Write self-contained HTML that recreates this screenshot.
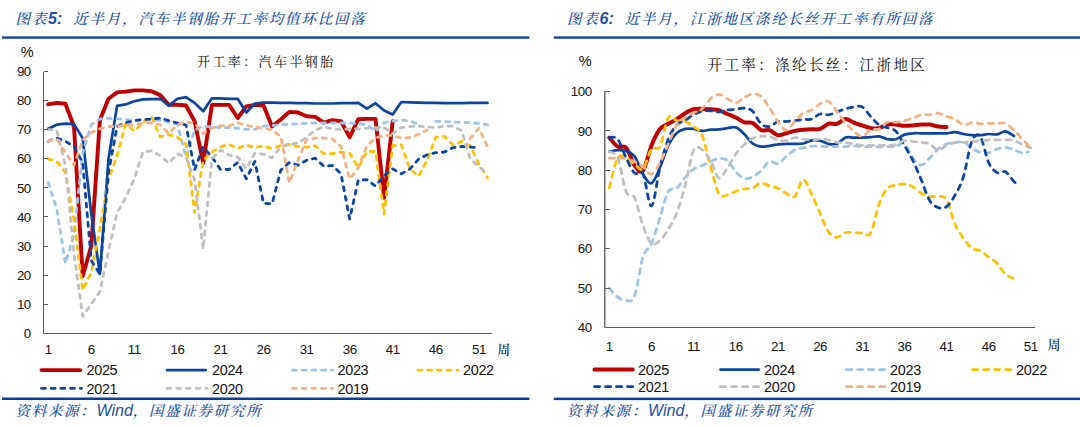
<!DOCTYPE html>
<html lang="zh-CN">
<head>
<meta charset="utf-8">
<title>图表5 / 图表6 开工率</title>
<style>
html,body{margin:0;padding:0;background:#fff;}
body{width:1080px;height:427px;position:relative;overflow:hidden;font-family:"Liberation Sans","Noto Sans CJK SC",sans-serif;}
.plot{position:absolute;left:0;top:0;}
.ax{font-family:"Liberation Sans","Noto Sans CJK SC",sans-serif;}
.kai{font-family:"Liberation Serif","Noto Serif CJK SC",serif;}
.rule{position:absolute;height:2.5px;background:#0B49A3;}
.title,.src{position:absolute;white-space:nowrap;color:#1B4FA8;font-style:italic;font-family:"Liberation Serif","Noto Serif CJK SC",serif;font-weight:500;}
.title{font-size:14.5px;letter-spacing:1.8px;line-height:20px;top:8.5px;}
.title b{font-family:"Liberation Sans",sans-serif;font-weight:bold;font-size:16px;letter-spacing:0;}
.src{font-size:14.5px;letter-spacing:1.7px;line-height:20px;top:400.5px;}
.src i{font-family:"Liberation Sans",sans-serif;font-size:16px;letter-spacing:0;}
.ctitle{position:absolute;white-space:nowrap;color:#111;font-family:"Liberation Serif","Noto Serif CJK SC",serif;font-weight:400;line-height:20px;}
</style>
</head>
<body>
<div class="title" style="left:15.5px">图表<b>5:</b>&nbsp; 近半月，汽车半钢胎开工率均值环比回落</div>
<div class="title" style="left:567px">图表<b>6:</b>&nbsp; 近半月，江浙地区涤纶长丝开工率有所回落</div>
<div class="ctitle" style="left:197px;top:52px;font-size:13px;letter-spacing:2.4px">开工率：汽车半钢胎</div>
<div class="ctitle" style="left:707.5px;top:55px;font-size:14.5px;letter-spacing:2.4px">开工率：涤纶长丝：江浙地区</div>
<svg class="plot" width="1080" height="427" viewBox="0 0 1080 427">
<g fill="none" stroke-linecap="round" stroke-linejoin="round">
<path stroke="#C00000" stroke-width="3.9" d="M48.2 104.4 L56.8 102.9 L65.4 103.8 L74.0 126.5 L82.7 276.3 L91.3 245.7 L99.9 120.1 L108.5 98.8 L117.1 92.4 L125.7 91.6 L134.3 90.4 L142.9 90.4 L151.6 91.3 L160.2 95.1 L168.8 104.7 L177.4 104.7 L186.0 105.5 L194.6 121.2 L203.2 163.1 L211.9 104.9 L220.5 104.9 L229.1 104.9 L237.7 118.0 L246.3 106.4 L254.9 104.9 L263.5 105.5 L272.1 126.5 L280.8 119.5 L289.4 111.9 L298.0 112.5 L306.6 116.3 L315.2 116.9 L323.8 122.7 L332.4 120.1 L341.0 121.2 L349.7 137.2 L358.3 119.2 L366.9 118.9 L375.5 118.9 L384.1 197.7 L392.7 121.2"/>
<path stroke="#0A45A0" stroke-width="2.7" d="M48.2 128.8 L56.8 124.7 L65.4 123.6 L74.0 124.1 L82.7 138.1 L91.3 214.0 L99.9 274.0 L108.5 158.8 L117.1 105.8 L125.7 104.4 L134.3 101.2 L142.9 99.4 L151.6 99.1 L160.2 98.8 L168.8 105.8 L177.4 98.8 L186.0 97.1 L194.6 102.9 L203.2 111.3 L211.9 98.3 L220.5 98.3 L229.1 98.8 L237.7 98.8 L246.3 112.5 L254.9 103.5 L263.5 102.6 L272.1 102.6 L280.8 102.9 L289.4 102.9 L298.0 103.2 L306.6 103.2 L315.2 103.5 L323.8 103.5 L332.4 103.5 L341.0 103.2 L349.7 103.2 L358.3 102.9 L366.9 108.7 L375.5 103.2 L384.1 110.5 L392.7 114.5 L401.3 102.0 L410.0 102.3 L418.6 102.6 L427.2 102.9 L435.8 102.9 L444.4 103.2 L453.0 103.2 L461.6 103.2 L470.2 102.9 L478.9 102.9 L487.5 102.9"/>
<path stroke="#9DC3E6" stroke-width="2.8" stroke-dasharray="3.9 5.8" d="M48.2 182.6 L56.8 208.8 L65.4 263.5 L74.0 234.4 L82.7 152.9 L91.3 124.7 L99.9 118.9 L108.5 118.3 L117.1 118.9 L125.7 119.5 L134.3 120.1 L142.9 120.1 L151.6 120.1 L160.2 120.4 L168.8 122.1 L177.4 124.4 L186.0 157.3 L194.6 130.0 L203.2 126.2 L211.9 126.8 L220.5 127.6 L229.1 127.6 L237.7 128.2 L246.3 129.4 L254.9 129.4 L263.5 126.2 L272.1 125.6 L280.8 124.7 L289.4 124.4 L298.0 123.9 L306.6 123.3 L315.2 123.0 L323.8 123.0 L332.4 123.0 L341.0 123.0 L349.7 123.0 L358.3 123.6 L366.9 124.7 L375.5 131.4 L384.1 122.7 L392.7 121.2 L401.3 120.1 L410.0 120.9 L418.6 124.7 M435.8 121.2 L444.4 121.5 L453.0 122.1 L461.6 122.4 L470.2 122.7 L478.9 123.3 L487.5 124.7"/>
<path stroke="#FFC000" stroke-width="2.8" stroke-dasharray="3.9 5.8" d="M48.2 158.8 L56.8 161.7 L65.4 172.4 L74.0 220.1 L82.7 290.2 L91.3 272.2 L99.9 228.6 L108.5 179.1 L117.1 155.9 L125.7 123.9 L134.3 131.1 L142.9 122.4 L151.6 116.9 L160.2 136.9 L168.8 134.6 L177.4 137.2 L186.0 144.2 L194.6 212.6 L203.2 160.2 L211.9 152.1 L220.5 146.8 L229.1 144.5 L237.7 148.3 L246.3 145.1 L254.9 147.4 L263.5 146.0 L272.1 148.6 L280.8 145.4 L289.4 144.5 L298.0 146.5 L306.6 147.1 L315.2 145.7 L323.8 153.8 L332.4 153.5 L341.0 152.1 L349.7 153.2 L358.3 167.8 L366.9 151.5 L375.5 151.5 L384.1 214.0 L392.7 145.7 L401.3 144.8 L410.0 168.9 L418.6 176.2 L427.2 160.2 L435.8 137.2 L444.4 136.4 L453.0 145.1 L461.6 141.3 L470.2 145.7 L478.9 164.0 L487.5 177.7"/>
<path stroke="#0A45A0" stroke-width="2.8" stroke-dasharray="3.9 5.8" d="M48.2 141.3 L56.8 138.1 L65.4 141.3 L74.0 146.5 L82.7 162.8 L91.3 260.6 L99.9 274.0 L108.5 172.4 L117.1 126.5 L125.7 122.7 L134.3 120.7 L142.9 119.5 L151.6 118.9 L160.2 118.0 L168.8 120.7 L177.4 123.0 L186.0 125.0 L194.6 169.8 L203.2 146.8 L211.9 157.0 L220.5 169.5 L229.1 169.5 L237.7 162.5 L246.3 178.8 L254.9 161.4 L263.5 203.3 L272.1 203.8 L280.8 170.1 L289.4 162.5 L298.0 165.2 L306.6 160.2 L315.2 158.2 L323.8 166.3 L332.4 165.5 L341.0 173.9 L349.7 219.0 L358.3 180.0 L366.9 179.7 L375.5 186.1 L384.1 175.6 L392.7 168.9 L401.3 173.9 L410.0 168.9 L418.6 159.1 L427.2 154.7 L435.8 152.7 L444.4 152.1 L453.0 147.7 L461.6 146.5 L470.2 147.1 L475.4 147.4"/>
<path stroke="#BFBFBF" stroke-width="2.8" stroke-dasharray="3.9 5.8" d="M48.2 129.7 L56.8 130.3 L65.4 165.2 L74.0 253.9 L82.7 316.4 L91.3 303.9 L99.9 291.4 L108.5 251.3 L117.1 212.6 L125.7 197.7 L134.3 178.8 L142.9 152.1 L151.6 150.9 L160.2 155.6 L168.8 163.1 L177.4 153.8 L186.0 157.6 L194.6 180.0 L203.2 248.9 L211.9 158.8 L220.5 150.0 L229.1 155.0 L237.7 157.0 L246.3 168.7 L254.9 153.2 L263.5 154.1 L272.1 157.9 L280.8 146.5 L289.4 144.8 L298.0 142.8 L306.6 137.5 L315.2 130.0 L323.8 127.1 L332.4 128.8 L341.0 129.7 L349.7 128.8 L358.3 128.8 L366.9 128.2 L375.5 127.6 L384.1 127.6 L392.7 133.7 L401.3 127.6 L410.0 126.5 L418.6 125.9 L427.2 127.1 L435.8 127.6 L444.4 125.9 L453.0 126.2 L461.6 130.5 L470.2 158.8 L478.9 166.6 L487.5 173.9"/>
<path stroke="#F4B183" stroke-width="2.8" stroke-dasharray="3.9 5.8" d="M48.2 141.0 L56.8 139.0 L65.4 152.7 L74.0 165.2 L82.7 140.1 L91.3 132.6 L99.9 128.8 L108.5 126.5 L117.1 126.5 L125.7 125.0 L134.3 125.0 L142.9 123.0 L151.6 123.0 L160.2 124.7 L168.8 133.5 L177.4 124.7 L186.0 122.1 L194.6 123.0 L203.2 133.7 L211.9 127.9 L220.5 125.6 L229.1 125.9 L237.7 122.7 L246.3 125.3 L254.9 127.1 L263.5 127.9 L272.1 130.0 L280.8 136.4 L289.4 182.9 L298.0 160.2 L306.6 139.6 L315.2 138.1 L323.8 138.1 L332.4 139.0 L341.0 146.5 L349.7 179.1 L358.3 167.8 L366.9 145.7 L375.5 138.1 L384.1 135.2 L392.7 135.5 L401.3 138.1 L410.0 137.5 L418.6 134.3 L427.2 130.0 M470.2 138.7 L478.9 128.2 L487.5 146.8"/>
<path stroke="#C00000" stroke-width="4" d="M609.3 137.6 C610.7 139.1 614.9 144.9 617.7 146.6 C620.6 148.3 623.4 144.7 626.2 147.8 C629.0 150.9 631.8 161.7 634.6 165.5 C637.4 169.3 640.2 173.9 643.0 170.6 C645.8 167.3 648.7 152.4 651.5 145.4 C654.3 138.5 657.1 132.5 659.9 128.9 C662.7 125.3 665.5 125.5 668.3 123.8 C671.1 122.2 673.9 120.9 676.8 119.1 C679.6 117.3 682.4 114.9 685.2 113.2 C688.0 111.6 690.8 110.0 693.6 109.3 C696.4 108.6 699.2 108.9 702.0 108.9 C704.9 108.9 707.7 109.1 710.5 109.3 C713.3 109.5 716.1 109.3 718.9 110.1 C721.7 110.9 724.5 112.8 727.3 114.0 C730.1 115.2 733.0 116.2 735.8 117.5 C738.6 118.9 741.4 121.3 744.2 122.3 C747.0 123.2 749.8 121.7 752.6 123.0 C755.4 124.3 758.2 128.9 761.1 130.1 C763.9 131.3 766.7 129.3 769.5 130.1 C772.3 131.0 775.1 134.7 777.9 135.2 C780.7 135.7 783.5 134.0 786.3 133.3 C789.2 132.5 792.0 131.5 794.8 130.9 C797.6 130.3 800.4 130.0 803.2 129.7 C806.0 129.5 808.8 129.5 811.6 129.3 C814.4 129.2 817.3 129.9 820.1 128.9 C822.9 128.0 825.7 124.7 828.5 123.8 C831.3 123.0 834.1 124.6 836.9 123.8 C839.7 123.0 842.5 119.3 845.4 119.1 C848.2 118.9 851.0 121.6 853.8 122.6 C856.6 123.7 859.4 124.5 862.2 125.4 C865.0 126.3 867.8 127.7 870.6 128.1 C873.5 128.6 876.3 128.7 879.1 128.1 C881.9 127.6 884.7 125.2 887.5 124.6 C890.3 124.0 893.1 124.4 895.9 124.6 C898.7 124.8 901.6 125.7 904.4 125.8 C907.2 125.9 910.0 125.6 912.8 125.4 C915.6 125.2 918.4 124.7 921.2 124.6 C924.0 124.5 926.8 124.3 929.7 124.6 C932.5 124.9 935.3 126.2 938.1 126.6 C940.9 127.0 945.1 126.9 946.5 127.0"/>
<path stroke="#0A45A0" stroke-width="2.7" d="M609.3 151.7 C610.7 151.5 614.9 150.3 617.7 150.2 C620.6 150.0 623.4 149.9 626.2 150.9 C629.0 152.0 631.8 152.6 634.6 156.4 C637.4 160.3 640.2 169.7 643.0 174.1 C645.8 178.6 648.7 184.2 651.5 183.2 C654.3 182.1 657.1 174.1 659.9 167.8 C662.7 161.6 665.5 151.3 668.3 145.4 C671.1 139.6 673.9 135.6 676.8 132.9 C679.6 130.1 682.4 129.6 685.2 128.9 C688.0 128.3 690.8 128.6 693.6 128.9 C696.4 129.3 699.2 130.8 702.0 130.9 C704.9 131.0 707.7 130.0 710.5 129.7 C713.3 129.5 716.1 129.6 718.9 129.3 C721.7 129.1 724.5 128.5 727.3 128.1 C730.1 127.8 733.0 126.4 735.8 127.4 C738.6 128.3 741.4 131.4 744.2 134.0 C747.0 136.7 749.8 141.4 752.6 143.5 C755.4 145.6 758.2 146.2 761.1 146.6 C763.9 147.0 766.7 146.2 769.5 145.8 C772.3 145.4 775.1 144.6 777.9 144.3 C780.7 143.9 783.5 143.9 786.3 143.9 C789.2 143.8 792.0 143.9 794.8 143.9 C797.6 143.8 800.4 144.1 803.2 143.5 C806.0 142.9 808.8 140.8 811.6 140.3 C814.4 139.9 817.3 140.1 820.1 140.7 C822.9 141.3 825.7 143.3 828.5 143.9 C831.3 144.4 834.1 144.9 836.9 143.9 C839.7 142.8 842.5 138.6 845.4 137.6 C848.2 136.5 851.0 137.6 853.8 137.6 C856.6 137.6 859.4 137.6 862.2 137.6 C865.0 137.5 867.8 137.4 870.6 137.2 C873.5 137.0 876.3 136.1 879.1 136.4 C881.9 136.7 884.7 138.7 887.5 139.2 C890.3 139.6 893.1 139.9 895.9 139.2 C898.7 138.4 901.6 135.8 904.4 134.8 C907.2 133.8 910.0 133.5 912.8 133.3 C915.6 133.0 918.4 133.3 921.2 133.3 C924.0 133.3 926.8 133.3 929.7 133.3 C932.5 133.3 935.3 133.3 938.1 133.3 C940.9 133.3 943.7 133.5 946.5 133.3 C949.3 133.1 952.1 131.9 954.9 132.1 C957.8 132.2 960.6 133.5 963.4 134.0 C966.2 134.6 969.0 135.0 971.8 135.2 C974.6 135.4 977.4 135.4 980.2 135.2 C983.0 135.0 985.9 134.2 988.7 134.0 C991.5 133.9 994.3 134.9 997.1 134.4 C999.9 134.0 1002.7 131.0 1005.5 131.3 C1008.3 131.6 1012.5 135.2 1014.0 136.0"/>
<path stroke="#9DC3E6" stroke-width="2.75" stroke-dasharray="5.2 5.8" d="M609.3 288.1 C610.7 289.6 614.9 295.0 617.7 297.1 C620.6 299.2 623.4 300.9 626.2 300.7 C629.0 300.5 631.8 303.3 634.6 296.0 C637.4 288.6 640.2 265.4 643.0 256.7 C645.8 247.9 648.7 250.2 651.5 243.7 C654.3 237.2 657.1 226.5 659.9 217.8 C662.7 209.0 665.5 196.3 668.3 191.4 C671.1 186.5 673.9 190.6 676.8 188.3 C679.6 185.9 682.4 180.5 685.2 177.3 C688.0 174.1 690.8 171.0 693.6 169.0 C696.4 167.1 699.2 166.7 702.0 165.5 C704.9 164.2 707.7 162.7 710.5 161.6 C713.3 160.4 716.1 158.6 718.9 158.4 C721.7 158.2 724.5 158.1 727.3 160.4 C730.1 162.6 733.0 168.8 735.8 171.8 C738.6 174.8 741.4 177.6 744.2 178.5 C747.0 179.3 749.8 178.2 752.6 176.9 C755.4 175.6 758.2 173.1 761.1 170.6 C763.9 168.0 766.7 162.7 769.5 161.6 C772.3 160.4 775.1 164.4 777.9 163.5 C780.7 162.7 783.5 158.7 786.3 156.4 C789.2 154.2 792.0 151.2 794.8 149.8 C797.6 148.3 800.4 148.4 803.2 147.8 C806.0 147.2 808.8 146.5 811.6 146.2 C814.4 146.0 817.3 146.2 820.1 146.2 C822.9 146.3 825.7 146.6 828.5 146.6 C831.3 146.7 834.1 146.6 836.9 146.6 C839.7 146.6 842.5 146.8 845.4 146.6 C848.2 146.5 851.0 145.8 853.8 145.8 C856.6 145.8 859.4 146.5 862.2 146.6 C865.0 146.8 867.8 146.6 870.6 146.6 C873.5 146.7 876.3 147.0 879.1 147.0 C881.9 147.0 884.7 146.7 887.5 146.6 C890.3 146.6 893.1 147.1 895.9 146.6 C898.7 146.1 901.6 141.6 904.4 143.5 C907.2 145.4 910.0 154.4 912.8 158.0 C915.6 161.6 918.4 165.1 921.2 165.1 C924.0 165.1 926.8 160.7 929.7 158.0 C932.5 155.3 935.3 151.3 938.1 149.0 C940.9 146.6 943.7 145.0 946.5 143.9 C949.3 142.8 952.1 142.6 954.9 142.3 C957.8 142.0 960.6 141.4 963.4 142.3 C966.2 143.2 969.0 146.1 971.8 147.8 C974.6 149.5 977.4 151.7 980.2 152.5 C983.0 153.4 985.9 153.5 988.7 152.9 C991.5 152.3 994.3 149.9 997.1 149.0 C999.9 148.1 1002.7 147.3 1005.5 147.4 C1008.3 147.5 1011.1 148.8 1014.0 149.8 C1016.8 150.7 1020.0 152.6 1022.4 152.9 C1024.8 153.2 1027.3 151.9 1028.3 151.7"/>
<path stroke="#FFC000" stroke-width="2.75" stroke-dasharray="5.2 5.8" d="M609.3 187.9 C610.7 182.9 614.9 163.0 617.7 158.0 C620.6 153.0 623.4 157.0 626.2 158.0 C629.0 159.1 631.8 162.5 634.6 164.3 C637.4 166.1 640.2 171.6 643.0 169.0 C645.8 166.5 648.7 152.7 651.5 149.0 C654.3 145.2 657.1 151.9 659.9 146.6 C662.7 141.4 665.5 121.9 668.3 117.5 C671.1 113.2 673.9 120.0 676.8 120.7 C679.6 121.3 682.4 120.5 685.2 121.5 C688.0 122.5 690.8 124.3 693.6 126.6 C696.4 128.9 699.2 128.6 702.0 135.2 C704.9 141.8 707.7 156.5 710.5 166.3 C713.3 176.0 716.1 189.0 718.9 193.8 C721.7 198.6 724.5 195.4 727.3 195.0 C730.1 194.6 733.0 192.4 735.8 191.4 C738.6 190.4 741.4 189.7 744.2 189.1 C747.0 188.5 749.8 188.9 752.6 187.9 C755.4 186.9 758.2 183.5 761.1 183.2 C763.9 182.8 766.7 185.1 769.5 185.9 C772.3 186.8 775.1 187.0 777.9 188.3 C780.7 189.5 783.5 192.0 786.3 193.4 C789.2 194.8 792.0 198.8 794.8 196.5 C797.6 194.2 800.4 180.0 803.2 179.6 C806.0 179.2 808.8 188.5 811.6 194.2 C814.4 199.8 817.3 207.1 820.1 213.4 C822.9 219.7 825.7 227.9 828.5 231.9 C831.3 235.9 834.1 237.3 836.9 237.4 C839.7 237.5 842.5 233.5 845.4 232.7 C848.2 231.9 851.0 232.6 853.8 232.7 C856.6 232.8 859.4 233.0 862.2 233.1 C865.0 233.1 867.8 237.9 870.6 233.1 C873.5 228.2 876.3 211.5 879.1 204.0 C881.9 196.5 884.7 191.4 887.5 188.3 C890.3 185.1 893.1 185.9 895.9 185.1 C898.7 184.4 901.6 183.7 904.4 184.0 C907.2 184.2 910.0 185.2 912.8 186.7 C915.6 188.2 918.4 191.4 921.2 193.0 C924.0 194.6 926.8 195.9 929.7 196.5 C932.5 197.1 935.3 196.1 938.1 196.5 C940.9 197.0 943.7 194.7 946.5 199.3 C949.3 203.9 952.1 217.6 954.9 224.0 C957.8 230.5 960.6 234.2 963.4 238.2 C966.2 242.2 969.0 245.9 971.8 248.0 C974.6 250.1 977.4 249.3 980.2 250.8 C983.0 252.3 985.9 255.0 988.7 257.1 C991.5 259.1 994.3 260.5 997.1 263.3 C999.9 266.2 1002.7 271.8 1005.5 274.3 C1008.3 276.9 1012.5 277.9 1014.0 278.7"/>
<path stroke="#0A45A0" stroke-width="2.75" stroke-dasharray="5.2 5.8" d="M609.3 137.6 C610.7 137.8 614.9 135.7 617.7 139.2 C620.6 142.6 623.4 152.4 626.2 158.0 C629.0 163.7 631.8 170.3 634.6 173.0 C637.4 175.6 640.2 168.6 643.0 174.1 C645.8 179.6 648.7 207.0 651.5 206.0 C654.3 204.9 657.1 179.0 659.9 167.8 C662.7 156.7 665.5 146.3 668.3 139.2 C671.1 132.0 673.9 128.1 676.8 125.0 C679.6 121.9 682.4 122.0 685.2 120.3 C688.0 118.6 690.8 116.3 693.6 114.8 C696.4 113.3 699.2 111.9 702.0 111.2 C704.9 110.6 707.7 110.7 710.5 110.9 C713.3 111.0 716.1 112.2 718.9 112.0 C721.7 111.9 724.5 110.5 727.3 110.1 C730.1 109.6 733.0 109.6 735.8 109.3 C738.6 109.0 741.4 107.8 744.2 108.1 C747.0 108.4 749.8 108.6 752.6 111.2 C755.4 113.9 758.2 121.3 761.1 123.8 C763.9 126.4 766.7 127.0 769.5 126.6 C772.3 126.2 775.1 122.3 777.9 121.5 C780.7 120.6 783.5 121.6 786.3 121.5 C789.2 121.3 792.0 121.0 794.8 120.7 C797.6 120.4 800.4 119.8 803.2 119.5 C806.0 119.2 808.8 120.0 811.6 119.1 C814.4 118.2 817.3 114.7 820.1 114.0 C822.9 113.3 825.7 115.1 828.5 114.8 C831.3 114.5 834.1 113.0 836.9 112.0 C839.7 111.1 842.5 109.7 845.4 108.9 C848.2 108.0 851.0 107.3 853.8 106.9 C856.6 106.6 859.4 105.4 862.2 106.9 C865.0 108.5 867.8 113.3 870.6 116.4 C873.5 119.4 876.3 123.1 879.1 125.0 C881.9 126.9 884.7 126.7 887.5 127.8 C890.3 128.8 893.1 128.3 895.9 131.3 C898.7 134.2 901.6 140.6 904.4 145.4 C907.2 150.3 910.0 154.7 912.8 160.4 C915.6 166.1 918.4 173.0 921.2 179.6 C924.0 186.3 926.8 195.8 929.7 200.5 C932.5 205.1 935.3 206.5 938.1 207.5 C940.9 208.6 943.7 208.8 946.5 206.7 C949.3 204.7 952.1 200.3 954.9 195.4 C957.8 190.4 960.6 185.9 963.4 176.9 C966.2 167.9 969.0 148.3 971.8 141.5 C974.6 134.8 977.4 132.9 980.2 136.4 C983.0 139.9 985.9 156.7 988.7 162.7 C991.5 168.8 994.3 171.1 997.1 172.6 C999.9 174.1 1002.7 170.3 1005.5 171.8 C1008.3 173.3 1012.0 179.7 1014.0 181.6 C1015.9 183.5 1016.8 182.9 1017.3 183.2"/>
<path stroke="#BFBFBF" stroke-width="2.75" stroke-dasharray="5.2 5.8" d="M609.3 151.7 C610.7 152.8 614.9 151.3 617.7 158.0 C620.6 164.7 623.4 185.2 626.2 191.8 C629.0 198.4 631.8 192.1 634.6 197.7 C637.4 203.3 640.2 217.9 643.0 225.6 C645.8 233.3 648.7 241.2 651.5 243.7 C654.3 246.2 657.1 243.0 659.9 240.5 C662.7 238.1 665.5 233.7 668.3 229.1 C671.1 224.6 673.9 220.4 676.8 213.0 C679.6 205.7 682.4 195.6 685.2 185.1 C688.0 174.7 690.8 156.1 693.6 150.2 C696.4 144.3 699.2 148.1 702.0 149.8 C704.9 151.5 707.7 155.7 710.5 160.4 C713.3 165.1 716.1 176.8 718.9 178.1 C721.7 179.3 724.5 171.8 727.3 167.8 C730.1 163.8 733.0 158.0 735.8 154.1 C738.6 150.2 741.4 147.3 744.2 144.7 C747.0 142.0 749.8 139.7 752.6 138.4 C755.4 137.0 758.2 136.7 761.1 136.4 C763.9 136.1 766.7 135.8 769.5 136.4 C772.3 137.0 775.1 139.2 777.9 139.9 C780.7 140.7 783.5 141.1 786.3 140.7 C789.2 140.3 792.0 137.8 794.8 137.6 C797.6 137.3 800.4 138.8 803.2 139.2 C806.0 139.5 808.8 139.9 811.6 139.9 C814.4 139.9 817.3 139.2 820.1 139.2 C822.9 139.2 825.7 139.4 828.5 139.9 C831.3 140.5 834.1 141.8 836.9 142.3 C839.7 142.8 842.5 142.4 845.4 142.7 C848.2 143.0 851.0 143.4 853.8 143.9 C856.6 144.3 859.4 145.2 862.2 145.4 C865.0 145.7 867.8 145.4 870.6 145.4 C873.5 145.4 876.3 145.4 879.1 145.4 C881.9 145.4 884.7 145.6 887.5 145.4 C890.3 145.3 893.1 145.4 895.9 144.7 C898.7 143.9 901.6 141.2 904.4 140.7 C907.2 140.2 910.0 141.2 912.8 141.5 C915.6 141.8 918.4 141.9 921.2 142.3 C924.0 142.7 926.8 142.6 929.7 143.9 C932.5 145.2 935.3 149.9 938.1 150.2 C940.9 150.4 943.7 146.7 946.5 145.4 C949.3 144.2 952.1 143.2 954.9 142.7 C957.8 142.2 960.6 142.5 963.4 142.3 C966.2 142.1 969.0 141.8 971.8 141.5 C974.6 141.2 977.4 141.0 980.2 140.7 C983.0 140.5 985.9 140.1 988.7 139.9 C991.5 139.8 994.3 139.9 997.1 139.9 C999.9 139.9 1002.7 139.9 1005.5 139.9 C1008.3 140.0 1011.1 139.5 1014.0 140.3 C1016.8 141.1 1019.6 143.4 1022.4 144.7 C1025.2 145.9 1029.4 147.3 1030.8 147.8"/>
<path stroke="#F4B183" stroke-width="2.75" stroke-dasharray="5.2 5.8" d="M609.3 158.0 C610.7 158.0 614.9 158.0 617.7 158.0 C620.6 158.1 623.4 157.8 626.2 158.4 C629.0 159.0 631.8 160.2 634.6 161.6 C637.4 162.9 640.2 164.6 643.0 166.7 C645.8 168.8 648.7 174.8 651.5 174.1 C654.3 173.5 657.1 167.8 659.9 162.7 C662.7 157.7 665.5 150.2 668.3 143.9 C671.1 137.6 673.9 129.4 676.8 125.0 C679.6 120.6 682.4 119.6 685.2 117.5 C688.0 115.5 690.8 114.3 693.6 112.8 C696.4 111.4 699.2 111.2 702.0 108.9 C704.9 106.5 707.7 101.1 710.5 98.7 C713.3 96.3 716.1 94.4 718.9 94.4 C721.7 94.4 724.5 97.2 727.3 98.7 C730.1 100.1 733.0 103.2 735.8 103.0 C738.6 102.8 741.4 99.0 744.2 97.5 C747.0 96.0 749.8 94.2 752.6 94.0 C755.4 93.8 758.2 94.0 761.1 96.3 C763.9 98.6 766.7 103.5 769.5 107.7 C772.3 111.9 775.1 117.7 777.9 121.5 C780.7 125.2 783.5 130.1 786.3 130.1 C789.2 130.1 792.0 124.3 794.8 121.5 C797.6 118.7 800.4 115.1 803.2 113.2 C806.0 111.3 808.8 111.6 811.6 110.1 C814.4 108.5 817.3 105.2 820.1 103.8 C822.9 102.3 825.7 100.2 828.5 101.4 C831.3 102.7 834.1 107.7 836.9 111.2 C839.7 114.8 842.5 119.3 845.4 122.6 C848.2 126.0 851.0 129.0 853.8 131.3 C856.6 133.6 859.4 136.7 862.2 136.4 C865.0 136.1 867.8 131.0 870.6 129.7 C873.5 128.5 876.3 130.2 879.1 128.9 C881.9 127.7 884.7 123.4 887.5 122.3 C890.3 121.1 893.1 122.5 895.9 122.3 C898.7 122.0 901.6 121.3 904.4 120.7 C907.2 120.0 910.0 119.3 912.8 118.3 C915.6 117.3 918.4 115.4 921.2 114.8 C924.0 114.2 926.8 115.0 929.7 114.8 C932.5 114.5 935.3 113.0 938.1 113.2 C940.9 113.5 943.7 115.4 946.5 116.4 C949.3 117.3 952.1 117.7 954.9 119.1 C957.8 120.6 960.6 124.4 963.4 125.0 C966.2 125.6 969.0 122.8 971.8 122.6 C974.6 122.5 977.4 123.7 980.2 123.8 C983.0 124.0 985.9 123.5 988.7 123.4 C991.5 123.4 994.3 123.4 997.1 123.4 C999.9 123.4 1002.7 122.3 1005.5 123.4 C1008.3 124.5 1011.1 127.5 1014.0 130.1 C1016.8 132.7 1019.6 136.2 1022.4 139.2 C1025.2 142.1 1029.4 146.4 1030.8 147.8"/>
</g>
<g stroke="#595959" stroke-width="1" fill="none" shape-rendering="crispEdges">
<path d="M43.5 71.5 V333.5 H492"/>
<path d="M43.5 333.5 H47.5"/>
<path d="M43.5 304.5 H47.5"/>
<path d="M43.5 275.5 H47.5"/>
<path d="M43.5 246.5 H47.5"/>
<path d="M43.5 216.5 H47.5"/>
<path d="M43.5 187.5 H47.5"/>
<path d="M43.5 158.5 H47.5"/>
<path d="M43.5 129.5 H47.5"/>
<path d="M43.5 100.5 H47.5"/>
<path d="M43.5 71.5 H47.5"/>
</g><g stroke="#4d4d4d" stroke-width="1.25" fill="none">
<path d="M604.8 91.1 V327.5"/>
</g><g stroke="#595959" stroke-width="1" fill="none" shape-rendering="crispEdges">
<path d="M604.5 327.5 H1035"/>
<path d="M605 327.5 H609.5"/>
<path d="M605 288.5 H609.5"/>
<path d="M605 248.5 H609.5"/>
<path d="M605 209.5 H609.5"/>
<path d="M605 170.5 H609.5"/>
<path d="M605 130.5 H609.5"/>
<path d="M605 91.5 H609.5"/>
</g>
<g class="ax" font-size="13.3" letter-spacing="-0.45" fill="#111">
<text x="30.8" y="337.9" text-anchor="end">0</text>
<text x="30.8" y="308.8" text-anchor="end">10</text>
<text x="30.8" y="279.7" text-anchor="end">20</text>
<text x="30.8" y="250.6" text-anchor="end">30</text>
<text x="30.8" y="221.5" text-anchor="end">40</text>
<text x="30.8" y="192.5" text-anchor="end">50</text>
<text x="30.8" y="163.4" text-anchor="end">60</text>
<text x="30.8" y="134.3" text-anchor="end">70</text>
<text x="30.8" y="105.2" text-anchor="end">80</text>
<text x="30.8" y="76.1" text-anchor="end">90</text>
<text x="591.6" y="332.0" text-anchor="end">40</text>
<text x="591.6" y="292.7" text-anchor="end">50</text>
<text x="591.6" y="253.4" text-anchor="end">60</text>
<text x="591.6" y="214.1" text-anchor="end">70</text>
<text x="591.6" y="174.8" text-anchor="end">80</text>
<text x="591.6" y="135.5" text-anchor="end">90</text>
<text x="591.6" y="96.2" text-anchor="end">100</text>
<text x="48.2" y="354.4" text-anchor="middle">1</text>
<text x="91.3" y="354.4" text-anchor="middle">6</text>
<text x="134.3" y="354.4" text-anchor="middle">11</text>
<text x="177.4" y="354.4" text-anchor="middle">16</text>
<text x="220.5" y="354.4" text-anchor="middle">21</text>
<text x="263.5" y="354.4" text-anchor="middle">26</text>
<text x="306.6" y="354.4" text-anchor="middle">31</text>
<text x="349.7" y="354.4" text-anchor="middle">36</text>
<text x="392.7" y="354.4" text-anchor="middle">41</text>
<text x="435.8" y="354.4" text-anchor="middle">46</text>
<text x="478.9" y="354.4" text-anchor="middle">51</text>
<text x="609.3" y="350.6" text-anchor="middle">1</text>
<text x="651.5" y="350.6" text-anchor="middle">6</text>
<text x="693.6" y="350.6" text-anchor="middle">11</text>
<text x="735.8" y="350.6" text-anchor="middle">16</text>
<text x="777.9" y="350.6" text-anchor="middle">21</text>
<text x="820.1" y="350.6" text-anchor="middle">26</text>
<text x="862.2" y="350.6" text-anchor="middle">31</text>
<text x="904.4" y="350.6" text-anchor="middle">36</text>
<text x="946.5" y="350.6" text-anchor="middle">41</text>
<text x="988.7" y="350.6" text-anchor="middle">46</text>
<text x="1030.8" y="350.6" text-anchor="middle">51</text>
<text x="27.2" y="57.2" text-anchor="middle" font-size="14.5" letter-spacing="0">%</text>
<text x="585.2" y="65.6" text-anchor="middle" font-size="14.5" letter-spacing="0">%</text>
<text class="kai" x="497.6" y="353.6" font-size="12.6" font-weight="500" letter-spacing="0">周</text>
<text class="kai" x="1047.8" y="349.4" font-size="12.6" font-weight="500" letter-spacing="0">周</text>
</g>
<g fill="none" stroke-linecap="round">
<path stroke="#C00000" stroke-width="3.9" d="M41.5 370.1 H80.2"/>
<path stroke="#0A45A0" stroke-width="2.7" d="M167.0 370.1 H205.7"/>
<path stroke="#9DC3E6" stroke-width="2.8" stroke-dasharray="3.9 5.8" d="M292.5 370.1 H332.5"/>
<path stroke="#FFC000" stroke-width="2.8" stroke-dasharray="3.9 5.8" d="M418.0 370.1 H458.0"/>
<path stroke="#0A45A0" stroke-width="2.8" stroke-dasharray="3.9 5.8" d="M41.5 388.3 H81.5"/>
<path stroke="#BFBFBF" stroke-width="2.8" stroke-dasharray="3.9 5.8" d="M167.0 388.3 H207.0"/>
<path stroke="#F4B183" stroke-width="2.8" stroke-dasharray="3.9 5.8" d="M292.5 388.3 H332.5"/>
</g>
<g class="ax" font-size="14.4" letter-spacing="-0.3" fill="#111">
<text x="86.5" y="375.3">2025</text>
<text x="212.0" y="375.3">2024</text>
<text x="337.5" y="375.3">2023</text>
<text x="463.0" y="375.3">2022</text>
<text x="86.5" y="393.5">2021</text>
<text x="212.0" y="393.5">2020</text>
<text x="337.5" y="393.5">2019</text>
</g>
<g fill="none" stroke-linecap="round">
<path stroke="#C00000" stroke-width="4" d="M594.5 369.6 H632.7"/>
<path stroke="#0A45A0" stroke-width="2.7" d="M720.5 369.6 H758.7"/>
<path stroke="#9DC3E6" stroke-width="2.75" stroke-dasharray="5.2 5.8" d="M846.5 369.6 H884.7"/>
<path stroke="#FFC000" stroke-width="2.75" stroke-dasharray="5.2 5.8" d="M972.5 369.6 H1010.7"/>
<path stroke="#0A45A0" stroke-width="2.75" stroke-dasharray="5.2 5.8" d="M594.5 386.7 H632.7"/>
<path stroke="#BFBFBF" stroke-width="2.75" stroke-dasharray="5.2 5.8" d="M720.5 386.7 H758.7"/>
<path stroke="#F4B183" stroke-width="2.75" stroke-dasharray="5.2 5.8" d="M846.5 386.7 H884.7"/>
</g>
<g class="ax" font-size="14.4" letter-spacing="-0.3" fill="#111">
<text x="638.1" y="374.8">2025</text>
<text x="764.1" y="374.8">2024</text>
<text x="890.1" y="374.8">2023</text>
<text x="1016.1" y="374.8">2022</text>
<text x="638.1" y="391.9">2021</text>
<text x="764.1" y="391.9">2020</text>
<text x="890.1" y="391.9">2019</text>
</g>
<g fill="#083F9C">
<rect x="2" y="36.4" width="527.4" height="2.3"/>
<rect x="553.8" y="36.4" width="526.2" height="2.3"/>
<rect x="2" y="397.5" width="527.4" height="2.5"/>
<rect x="553.8" y="397.6" width="526.2" height="2.5"/>
</g>
</svg>
<div class="src" style="left:15.5px">资料来源：<i>Wind</i>，国盛证券研究所</div>
<div class="src" style="left:567px">资料来源：<i>Wind</i>，国盛证券研究所</div>
</body>
</html>
